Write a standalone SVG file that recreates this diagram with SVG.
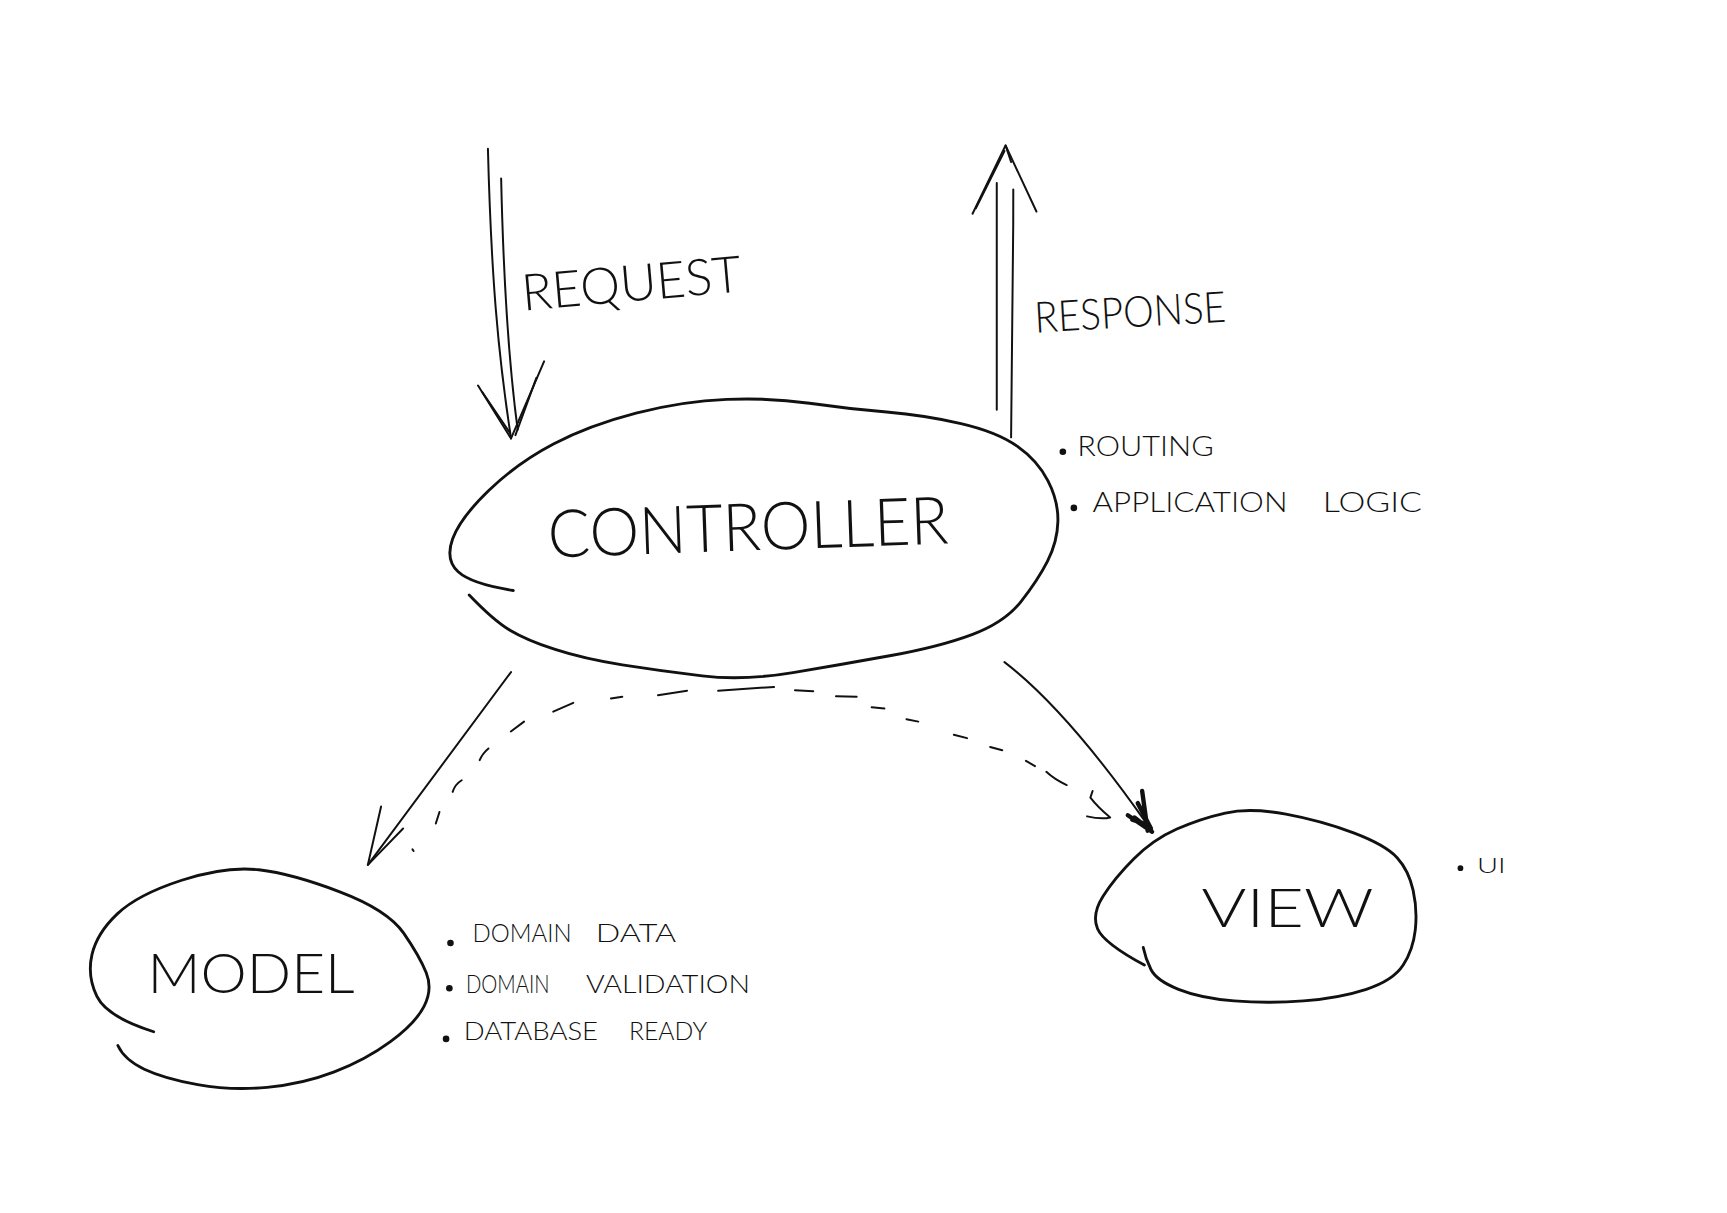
<svg xmlns="http://www.w3.org/2000/svg" width="1727" height="1213" viewBox="0 0 1727 1213">
<style>
.outline{fill:none;stroke:#111;stroke-width:2.6;stroke-linecap:round;stroke-linejoin:round}
.ln{fill:none;stroke:#111;stroke-width:1.8;stroke-linecap:round;stroke-linejoin:round}
.head{fill:none;stroke:#111;stroke-width:4;stroke-linecap:round;stroke-linejoin:round}
.hand{font-family:Lato,"DejaVu Sans","Liberation Sans",sans-serif;font-weight:300;fill:#111}
.dot{fill:#111}
</style>
<rect width="1727" height="1213" fill="#fff"/>
<g transform="scale(1.1014 1.1017)">
<g id="connectors">
<g id="request-arrow">
<path class="ln" d="M443,135 C446,250 452,320 464,398"/>
<path class="ln" d="M455,162 C457,250 462,330 470,390"/>
<path class="ln" d="M434,350 L464,398 L494,328"/>
<path class="ln" d="M438,356 L463,393 M487,343 L468,395"/>
<text class="hand" x="475" y="282" font-size="46" textLength="200" lengthAdjust="spacingAndGlyphs" transform="rotate(-5 475 282)">REQUEST</text>
</g>
<g id="response-arrow">
<path class="ln" d="M905,166 L905,372"/>
<path class="ln" d="M920,172 C920,250 919,330 918,397"/>
<path class="ln" d="M883,194 L913,132 L941,192"/>
<path class="ln" d="M886,189 L912,137 M913,132 L918,147"/>
<text class="hand" x="940" y="302" font-size="39" textLength="174" lengthAdjust="spacingAndGlyphs" transform="rotate(-3.3 940 302)">RESPONSE</text>
</g>
<g id="controller-to-model">
<path class="ln" d="M464,610 L334,785"/>
<path class="ln" d="M346,732 L334,785 L366,752"/>
</g>
<g id="controller-to-view">
<path class="ln" d="M912,601 Q968,644 1040,746"/>
<path class="head" d="M1024,740 L1046,755 M1037,718 L1042,754 M1033,729 L1045,752 M1028,744 L1043,749 M1030,742 L1044,753"/>
</g>
<g id="model-to-view-dashed">
<path class="ln" d="M374.5,771 L375.5,772.5"/>
<path class="ln" d="M395.7,747.5 L399,737"/>
<path class="ln" d="M411,718.8 Q413,712 419.2,708.2"/>
<path class="ln" d="M435.5,690 Q438,684 443.5,679.4"/>
<path class="ln" d="M463.8,664 L475.8,655"/>
<path class="ln" d="M502.3,646 L520.5,638"/>
<path class="ln" d="M554.7,634 L565,632.5"/>
<path class="ln" d="M597.4,631 L623.8,627"/>
<path class="ln" d="M652,627 L702.8,623.5"/>
<path class="ln" d="M721.8,626.5 L738.4,627.4"/>
<path class="ln" d="M759,632 L777.8,632.5"/>
<path class="ln" d="M791.4,642 L803,643"/>
<path class="ln" d="M823,652.8 L833.8,655"/>
<path class="ln" d="M866,667 L878,670"/>
<path class="ln" d="M899,678 L910,681"/>
<path class="ln" d="M931.5,690.6 L939.7,695.4"/>
<path class="ln" d="M950,700.6 Q958,708 968.5,712.6"/>
<path class="ln" d="M992,718 L990,724 Q997,733 1008,742 Q1000,744 987,741"/>
</g>
</g>
<g id="controller">
<path class="outline" d="M466,536 Q428,530 416,519 Q404,508 411,489 Q418,470 444,445 Q470,420 502.5,403 Q535,386 577.5,375 Q620,364 660,362.5 Q700,361 735,366 Q770,371 805,374 Q840,377 872.5,384.5 Q905,392 923.5,405 Q942,418 951.5,436.5 Q961,455 960.5,473.5 Q960,492 951,509.5 Q942,527 927,546 Q912,565 882.5,576 Q853,587 809,595 Q765,603 720,610.5 Q675,618 637.5,613.5 Q600,609 565,603.5 Q530,598 504,589.5 Q478,581 463,572 Q448,563 426,540"/>
<text class="hand" x="498" y="506" font-size="60" textLength="364" lengthAdjust="spacingAndGlyphs" transform="rotate(-2 498 506)">CONTROLLER</text>
<circle class="dot" cx="965" cy="410" r="3"/>
<text class="hand" x="978" y="414" font-size="25" textLength="124" lengthAdjust="spacingAndGlyphs">ROUTING</text>
<circle class="dot" cx="975" cy="461" r="3"/>
<text class="hand" y="465" font-size="25"><tspan x="992" textLength="177" lengthAdjust="spacingAndGlyphs">APPLICATION</tspan> <tspan x="1201" textLength="90" lengthAdjust="spacingAndGlyphs">LOGIC</tspan></text>
</g>
<g id="model">
<path class="outline" d="M139.5,936.5 Q97,923 88,904.5 Q79,886 83.5,866.5 Q88,847 106.5,829.5 Q125,812 165,799 Q205,786 235,789.5 Q265,793 308.5,809.5 Q352,826 366.5,847 Q381,868 387,883 Q393,898 385,913.5 Q377,929 354.5,945.5 Q332,962 303.5,973 Q275,984 242.5,987 Q210,990 179.5,984.5 Q149,979 131,970.5 Q113,962 107,949"/>
<text class="hand" x="134" y="901" font-size="50" textLength="188" lengthAdjust="spacingAndGlyphs">MODEL</text>
<circle class="dot" cx="409" cy="856" r="3"/>
<text class="hand" y="855" font-size="23"><tspan x="429" textLength="90" lengthAdjust="spacingAndGlyphs">DOMAIN</tspan> <tspan x="541" textLength="73" lengthAdjust="spacingAndGlyphs">DATA</tspan></text>
<circle class="dot" cx="408" cy="897" r="3"/>
<text class="hand" y="901" font-size="23"><tspan x="423" textLength="76" lengthAdjust="spacingAndGlyphs">DOMAIN</tspan> <tspan x="532" textLength="149" lengthAdjust="spacingAndGlyphs">VALIDATION</tspan></text>
<circle class="dot" cx="405" cy="943" r="3"/>
<text class="hand" y="944" font-size="23"><tspan x="421" textLength="122" lengthAdjust="spacingAndGlyphs">DATABASE</tspan> <tspan x="571" textLength="71" lengthAdjust="spacingAndGlyphs">READY</tspan></text>
</g>
<g id="view">
<path class="outline" d="M1039,876 Q1002,856 996.5,843 Q991,830 1001.5,813.5 Q1012,797 1029.5,779.5 Q1047,762 1068.5,752.5 Q1090,743 1112.5,738 Q1135,733 1167.5,739 Q1200,745 1229,756 Q1258,767 1268.5,778.5 Q1279,790 1283,808 Q1287,826 1285,844 Q1283,862 1274,876 Q1265,890 1240.5,898 Q1216,906 1183.5,908.5 Q1151,911 1120.5,908.5 Q1090,906 1070,898 Q1050,890 1045,880 Q1040,870 1038,860"/>
<text class="hand" x="1091" y="841" font-size="48" textLength="156" lengthAdjust="spacingAndGlyphs">VIEW</text>
<circle class="dot" cx="1326" cy="788" r="2.6"/>
<text class="hand" x="1341" y="792" font-size="19" textLength="26" lengthAdjust="spacingAndGlyphs">UI</text>
</g>
</g>
</svg>
